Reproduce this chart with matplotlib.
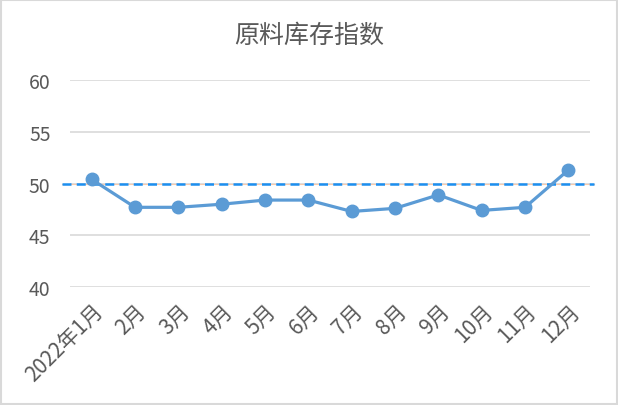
import matplotlib
matplotlib.use("Agg")
import matplotlib.pyplot as plt
from matplotlib.patches import Rectangle

plt.rcParams['font.family'] = ['Noto Sans CJK SC', 'DejaVu Sans']

categories = ["2022年1月", "2月", "3月", "4月", "5月", "6月", "7月", "8月", "9月", "10月", "11月", "12月"]
values = [50.4, 47.7, 47.7, 48.0, 48.4, 48.4, 47.3, 47.6, 48.9, 47.4, 47.7, 51.3]
ref_value = 50
y_ticks = [40, 45, 50, 55, 60]

fig = plt.figure(figsize=(6.18, 4.06), dpi=100)
fig.patch.set_facecolor('white')
fig.patches.append(Rectangle((0.002, 0.003), 0.996, 0.994, transform=fig.transFigure,
                             fill=False, edgecolor='#d9d9d9', linewidth=1.5))

ax = fig.add_axes([0.1133, 0.2906, 0.8414, 0.5099])
x = list(range(len(categories)))
ax.set_xlim(-0.5, len(categories) - 0.5)
ax.set_ylim(40, 60)
ax.set_yticks(y_ticks)
ax.yaxis.grid(True, color='#d9d9d9', linewidth=1.2)
ax.set_axisbelow(True)
for s in ax.spines.values():
    s.set_visible(False)

# reference line at 50
ax.axhline(ref_value, xmin=-0.015, xmax=1.008, color='#f8cbad', linewidth=0.8, clip_on=False, zorder=2)
ax.axhline(ref_value, xmin=-0.015, xmax=1.008, color='#1c8ff0', linewidth=1.8,
           dashes=(3.6, 2.1), clip_on=False, zorder=3)

ax.plot(x, values, color='#5b9bd5', linewidth=2.3, marker='o', markersize=9,
        markerfacecolor='#5b9bd5', markeredgecolor='#5b9bd5', zorder=4)

ax.set_xticks(x)
ax.set_xticklabels(categories, rotation=45, ha='right', va='top', rotation_mode='anchor')
ax.tick_params(axis='both', length=0, labelcolor='#595959')
ax.tick_params(axis='y', pad=14, labelsize=14)
ax.tick_params(axis='x', pad=9, labelsize=15)

fig.text(0.5, 0.912, '原料库存指数', ha='center', va='center', fontsize=18, color='#595959')

fig.savefig('out.png', dpi=100)
